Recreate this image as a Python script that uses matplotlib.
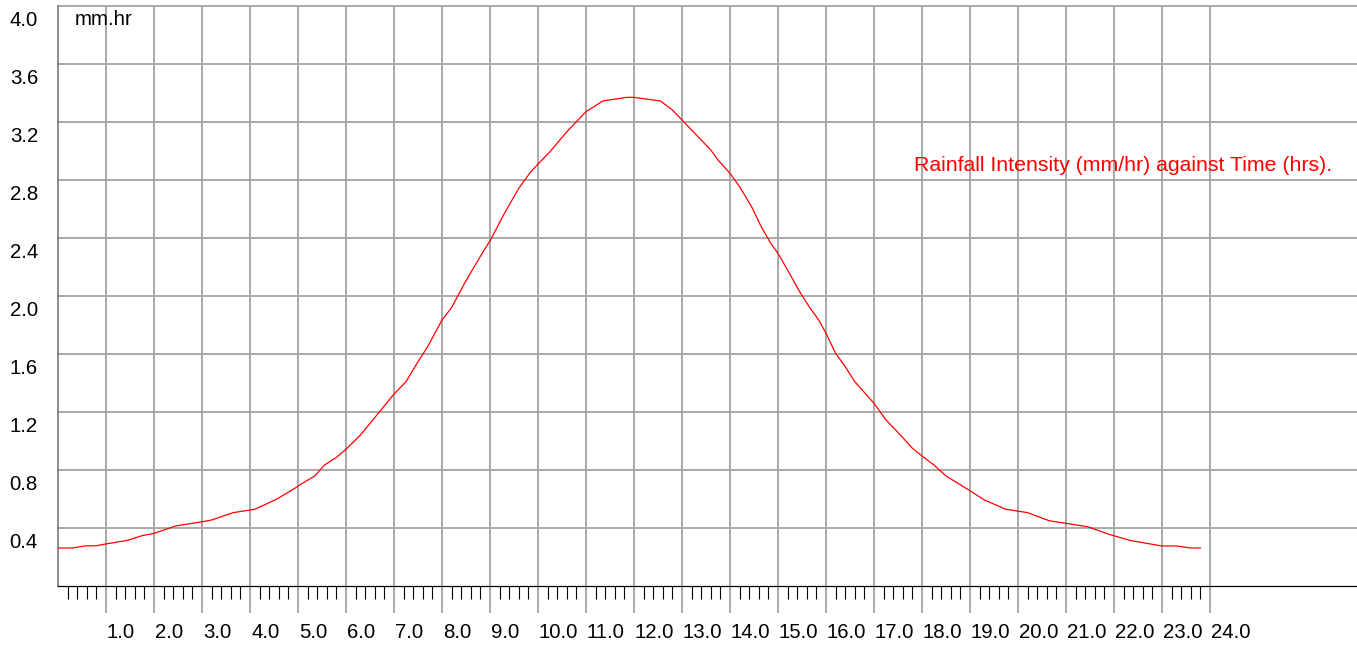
"""
Rainfall intensity (mm/hr) against time (hrs) - design storm profile.
"""

import numpy as np
import matplotlib
matplotlib.use("Agg")
import matplotlib.pyplot as plt
from matplotlib.transforms import offset_copy

plt.rcParams['font.family'] = ['Liberation Sans', 'DejaVu Sans']

# Values
hours = [0.0, 0.3, 0.55, 0.8, 1.0, 1.45, 1.75, 2.0, 2.45, 3.0, 3.2, 3.65,
         4.1, 4.55, 4.85, 5.15, 5.35, 5.55, 5.8, 6.0, 6.3, 6.7, 7.0, 7.25,
         7.5, 7.7, 8.0, 8.2, 8.45, 8.65, 8.9, 9.0, 9.3, 9.6, 9.85, 10.0,
         10.25, 10.6, 11.0, 11.35, 11.85, 12.0, 12.55, 12.8, 13.0, 13.3,
         13.6, 13.75, 14.0, 14.2, 14.45, 14.65, 14.85, 15.0, 15.2, 15.45,
         15.65, 15.85, 16.0, 16.2, 16.4, 16.6, 17.0, 17.25, 17.55, 17.8,
         18.0, 18.25, 18.5, 19.0, 19.3, 19.75, 20.2, 20.65, 21.0, 21.45,
         21.9, 22.35, 23.0, 23.3, 23.6, 23.8]
intensity = [0.262, 0.262, 0.276, 0.278, 0.29, 0.315, 0.347, 0.363, 0.414,
             0.443, 0.455, 0.506, 0.529, 0.598, 0.657, 0.72, 0.759, 0.834,
             0.887, 0.943, 1.041, 1.202, 1.324, 1.409, 1.547, 1.65, 1.834,
             1.92, 2.076, 2.19, 2.329, 2.38, 2.57, 2.743, 2.857, 2.91, 2.995,
             3.133, 3.271, 3.345, 3.37, 3.37, 3.345, 3.283, 3.214, 3.11,
             3.007, 2.938, 2.846, 2.754, 2.616, 2.478, 2.363, 2.294, 2.179,
             2.03, 1.926, 1.834, 1.743, 1.605, 1.513, 1.409, 1.26, 1.145,
             1.041, 0.95, 0.897, 0.834, 0.759, 0.657, 0.593, 0.529, 0.506,
             0.45, 0.432, 0.409, 0.356, 0.313, 0.276, 0.276, 0.262, 0.262]

y_levels = [0.4, 0.8, 1.2, 1.6, 2.0, 2.4, 2.8, 3.2, 3.6, 4.0]
x_hours = list(range(1, 25))
title = 'Rainfall Intensity (mm/hr) against Time (hrs).'
units = 'mm.hr'

W, H, DPI = 1357, 646, 100
fig = plt.figure(figsize=(W / DPI, H / DPI), dpi=DPI)
left, bottom, top = 58, 586, 6
ax = fig.add_axes([left / W, (H - bottom) / H, (W - left) / W, (bottom - top) / H])

ax.set_xlim(0, (W - left) / 48.0)
ax.set_ylim(0, 4.0)

grid_col = '#a3a3a3'
for v in y_levels:
    ax.axhline(v, color=grid_col, lw=1.3, clip_on=False, zorder=1)
below = -(612 - bottom) / (bottom - top)
for h in x_hours:
    ax.axvline(h, ymin=below, ymax=1, color=grid_col, lw=1.3, clip_on=False, zorder=1)

ax.plot(hours, intensity, color='red', lw=0.9, zorder=3)

# spines
for s in ['top', 'right']:
    ax.spines[s].set_visible(False)
ax.spines['left'].set_color('#7a7a7a')
ax.spines['left'].set_linewidth(1.2)
ax.spines['bottom'].set_color('black')
ax.spines['bottom'].set_linewidth(0.9)

# minor ticks every 0.2 hr, skipping whole hours
minor = [i / 5 for i in range(1, 120) if i % 5 != 0]
ax.set_xticks(minor)
ax.set_xticklabels([])
ax.tick_params(axis='x', direction='out', length=9.5, width=0.8, color='black')
ax.set_yticks([])

fs = 14.7
xlab_tr = offset_copy(ax.get_xaxis_transform(), fig=fig, x=1, y=-52, units='dots')
for h in x_hours:
    ax.text(h, 0, f'{h:.1f}', transform=xlab_tr, ha='left', va='baseline', fontsize=fs)

ylab_tr = offset_copy(ax.get_yaxis_transform(), fig=fig, x=-20, y=-20, units='dots')
for v in y_levels:
    ax.text(0, v, f'{v:.1f}', transform=ylab_tr, ha='right', va='baseline', fontsize=fs)

fig.text(75 / W, 1 - 25 / H, units, ha='left', va='baseline', fontsize=fs)
fig.text(914 / W, 1 - 171 / H, title, ha='left', va='baseline', fontsize=15.3, color='red')

fig.savefig('out.png', dpi=DPI)
